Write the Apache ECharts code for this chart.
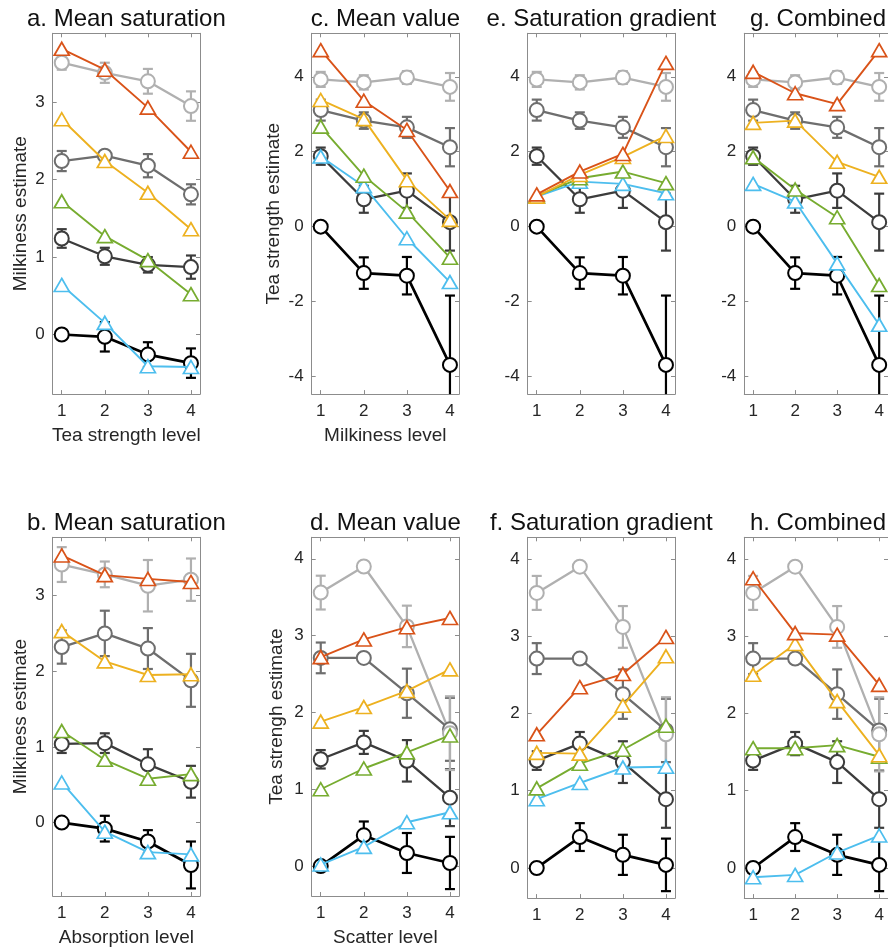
<!DOCTYPE html>
<html><head><meta charset="utf-8">
<script src="https://cdn.jsdelivr.net/npm/echarts@6/dist/echarts.min.js"></script>
<style>html,body{margin:0;padding:0;background:#fff}#chart{width:888px;height:948px}</style>
</head><body><div id="chart"></div>
<script>
// ---------- categories / ticks ----------
const levels = [1, 2, 3, 4];
const milkTicksA = [0, 1, 2, 3];
const milkTicksB = [0, 1, 2, 3];
const teaTicksTop = [-4, -2, 0, 2, 4];
const teaTicksBottom = [0, 1, 2, 3, 4];

// ---------- panel a (Milkiness estimate vs Tea strength level) ----------
const aBlack = [0, -0.03, -0.26, -0.37];
const aBlackErr = [0, 0.19, 0.16, 0.19];
const aDark = [1.24, 1.01, 0.90, 0.87];
const aDarkErr = [0.12, 0.11, 0.10, 0.15];
const aMid = [2.24, 2.31, 2.18, 1.81];
const aMidErr = [0.13, 0.06, 0.15, 0.13];
const aLight = [3.51, 3.38, 3.27, 2.95];
const aLightErr = [0.09, 0.13, 0.16, 0.19];
const aOrange = [3.69, 3.42, 2.93, 2.36];
const aYellow = [2.78, 2.24, 1.83, 1.36];
const aGreen = [1.72, 1.27, 0.96, 0.52];
const aBlue = [0.64, 0.15, -0.41, -0.42];

// ---------- panel b (Milkiness estimate vs Absorption level) ----------
const bBlack = [0, -0.08, -0.25, -0.56];
const bBlackErr = [0, 0.17, 0.15, 0.31];
const bDark = [1.04, 1.05, 0.77, 0.54];
const bDarkErr = [0.12, 0.13, 0.20, 0.21];
const bMid = [2.32, 2.50, 2.30, 1.88];
const bMidErr = [0.22, 0.30, 0.27, 0.35];
const bLight = [3.41, 3.28, 3.13, 3.21];
const bLightErr = [0.23, 0.17, 0.34, 0.28];
const bOrange = [3.53, 3.27, 3.22, 3.18];
const bYellow = [2.53, 2.13, 1.95, 1.96];
const bGreen = [1.21, 0.83, 0.58, 0.64];
const bBlue = [0.53, -0.12, -0.39, -0.42];

// ---------- top row c/e/g: shared circle series (Tea strength estimate vs Milkiness level) ----------
const topBlack = [0, -1.24, -1.31, -3.69];
const topBlackErr = [0, 0.42, 0.50, 1.85];
const topDark = [1.88, 0.73, 0.96, 0.12];
const topDarkErr = [0.23, 0.36, 0.46, 0.76];
const topMid = [3.11, 2.83, 2.65, 2.12];
const topMidErr = [0.28, 0.22, 0.28, 0.51];
const topLight = [3.93, 3.85, 3.98, 3.73];
const topLightErr = [0.20, 0.19, 0.17, 0.37];
const cOrange = [4.71, 3.36, 2.58, 0.95];
const cYellow = [3.38, 2.87, 1.24, 0.18];
const cGreen = [2.67, 1.36, 0.40, -0.83];
const cBlue = [1.87, 1.08, -0.31, -1.48];
const eOrange = [0.86, 1.47, 1.94, 4.37];
const eYellow = [0.80, 1.38, 1.86, 2.42];
const eGreen = [0.82, 1.29, 1.47, 1.16];
const eBlue = [0.80, 1.20, 1.14, 0.89];
const gOrange = [4.13, 3.56, 3.27, 4.71];
const gYellow = [2.77, 2.83, 1.73, 1.33];
const gGreen = [1.85, 0.99, 0.25, -1.56];
const gBlue = [1.14, 0.67, -0.98, -2.62];

// ---------- bottom row d/f/h: shared circle series (Tea strength estimate vs Scatter level) ----------
const botBlack = [0, 0.40, 0.17, 0.04];
const botBlackErr = [0, 0.18, 0.26, 0.34];
const botDark = [1.39, 1.61, 1.37, 0.89];
const botDarkErr = [0.12, 0.15, 0.27, 0.37];
const botMid = [2.71, 2.71, 2.25, 1.78];
const botMidErr = [0.20, 0.06, 0.32, 0.41];
const botLight = [3.56, 3.90, 3.12, 1.73];
const botLightErr = [0.22, 0, 0.27, 0.48];
const dOrange = [2.72, 2.95, 3.11, 3.23];
const dYellow = [1.88, 2.07, 2.28, 2.56];
const dGreen = [1.00, 1.27, 1.48, 1.70];
const dBlue = [0.02, 0.25, 0.57, 0.70];
const fOrange = [1.73, 2.34, 2.51, 2.99];
const fYellow = [1.49, 1.48, 2.10, 2.74];
const fGreen = [1.03, 1.35, 1.53, 1.84];
const fBlue = [0.89, 1.10, 1.30, 1.31];
const hOrange = [3.75, 3.04, 3.02, 2.37];
const hYellow = [2.50, 2.90, 2.16, 1.46];
const hGreen = [1.55, 1.55, 1.59, 1.44];
const hBlue = [-0.12, -0.09, 0.20, 0.42];

// ---------- styling ----------
const FONT = "'Liberation Sans', Arial, Helvetica, sans-serif";
const C_BLACK = '#000000', C_DARK = '#3c3c3c', C_MID = '#6e6e6e', C_LIGHT = '#b0b0b0';
const C_ORANGE = '#D95319', C_YELLOW = '#EDB120', C_GREEN = '#77AC30', C_BLUE = '#4DBEEE';
const AXIS_COLOR = '#8c8c8c';

const colLeft = [52.7, 311.7, 527.7, 744.3];
const rowTop = [33.3, 537.3];
const gridW = 147.3, gridH = 360.8;

const panels = [
  { title: 'a. Mean saturation', col: 0, row: 0, ymin: -0.77, ymax: 3.89, yticks: milkTicksA,
    xname: 'Tea strength level', yname: 'Milkiness estimate', ygap: 22,
    circles: [[aBlack, aBlackErr], [aDark, aDarkErr], [aMid, aMidErr], [aLight, aLightErr]],
    tris: [aBlue, aGreen, aYellow, aOrange] },
  { title: 'c. Mean value', col: 1, row: 0, ymin: -4.47, ymax: 5.16, yticks: teaTicksTop,
    xname: 'Milkiness level', yname: 'Tea strength estimate', ygap: 28,
    circles: [[topBlack, topBlackErr], [topDark, topDarkErr], [topMid, topMidErr], [topLight, topLightErr]],
    tris: [cBlue, cGreen, cYellow, cOrange] },
  { title: 'e. Saturation gradient', col: 2, row: 0, ymin: -4.47, ymax: 5.16, yticks: teaTicksTop,
    xname: '', yname: '', ygap: 28,
    circles: [[topBlack, topBlackErr], [topDark, topDarkErr], [topMid, topMidErr], [topLight, topLightErr]],
    tris: [eBlue, eGreen, eYellow, eOrange] },
  { title: 'g. Combined', col: 3, row: 0, ymin: -4.47, ymax: 5.16, yticks: teaTicksTop,
    xname: '', yname: '', ygap: 28,
    circles: [[topBlack, topBlackErr], [topDark, topDarkErr], [topMid, topMidErr], [topLight, topLightErr]],
    tris: [gBlue, gGreen, gYellow, gOrange] },
  { title: 'b. Mean saturation', col: 0, row: 1, ymin: -0.97, ymax: 3.77, yticks: milkTicksB,
    xname: 'Absorption level', yname: 'Milkiness estimate', ygap: 22,
    circles: [[bBlack, bBlackErr], [bDark, bDarkErr], [bMid, bMidErr], [bLight, bLightErr]],
    tris: [bBlue, bGreen, bYellow, bOrange] },
  { title: 'd. Mean value', col: 1, row: 1, ymin: -0.39, ymax: 4.28, yticks: teaTicksBottom,
    xname: 'Scatter level', yname: 'Tea strengh estimate', ygap: 25,
    circles: [[botBlack, botBlackErr], [botDark, botDarkErr], [botMid, botMidErr], [botLight, botLightErr]],
    tris: [dBlue, dGreen, dYellow, dOrange] },
  { title: 'f. Saturation gradient', col: 2, row: 1, ymin: -0.39, ymax: 4.28, yticks: teaTicksBottom,
    xname: '', yname: '', ygap: 25,
    circles: [[botBlack, botBlackErr], [botDark, botDarkErr], [botMid, botMidErr], [botLight, botLightErr]],
    tris: [fBlue, fGreen, fYellow, fOrange] },
  { title: 'h. Combined', col: 3, row: 1, ymin: -0.39, ymax: 4.28, yticks: teaTicksBottom,
    xname: '', yname: '', ygap: 25,
    circles: [[botBlack, botBlackErr], [botDark, botDarkErr], [botMid, botMidErr], [botLight, botLightErr]],
    tris: [hBlue, hGreen, hYellow, hOrange] }
];
const circleColors = [C_BLACK, C_DARK, C_MID, C_LIGHT];
const triColors = [C_BLUE, C_GREEN, C_YELLOW, C_ORANGE];

const grids = [], xAxes = [], yAxes = [], series = [], graphics = [];

function axisCommon(extra) {
  return Object.assign({
    type: 'value',
    axisLine: { show: true, onZero: false, lineStyle: { color: AXIS_COLOR, width: 1 } },
    splitLine: { show: false },
    axisTick: { show: true, inside: true, length: 4, lineStyle: { color: AXIS_COLOR, width: 1 } },
    nameTextStyle: { fontSize: 19, color: '#262626', fontFamily: FONT }
  }, extra);
}

panels.forEach((p, gi) => {
  const left = colLeft[p.col], top = rowTop[p.row];
  grids.push({ left: left, top: top, width: gridW, height: gridH, containLabel: false, show: false });
  const xLab = { show: true, fontSize: 17, color: '#262626', fontFamily: FONT, margin: 9, customValues: levels };
  xAxes.push(axisCommon({ gridIndex: gi, position: 'bottom', min: 0.79, max: 4.21,
    axisTick: { show: true, inside: true, length: 4, customValues: levels, lineStyle: { color: AXIS_COLOR, width: 1 } },
    axisLabel: xLab, name: p.xname, nameLocation: 'middle', nameGap: 32 }));
  xAxes.push(axisCommon({ gridIndex: gi, position: 'top', min: 0.79, max: 4.21,
    axisTick: { show: true, inside: true, length: 4, customValues: levels, lineStyle: { color: AXIS_COLOR, width: 1 } },
    axisLabel: { show: false } }));
  yAxes.push(axisCommon({ gridIndex: gi, position: 'left', min: p.ymin, max: p.ymax,
    axisTick: { show: true, inside: true, length: 4, customValues: p.yticks, lineStyle: { color: AXIS_COLOR, width: 1 } },
    axisLabel: { show: true, fontSize: 17, color: '#262626', fontFamily: FONT, margin: 8, customValues: p.yticks },
    name: p.yname, nameLocation: 'middle', nameGap: p.ygap }));
  yAxes.push(axisCommon({ gridIndex: gi, position: 'right', min: p.ymin, max: p.ymax,
    axisTick: { show: true, inside: true, length: 4, customValues: p.yticks, lineStyle: { color: AXIS_COLOR, width: 1 } },
    axisLabel: { show: false } }));

  const xi = gi * 2, yi = gi * 2;
  // circle series with error bars
  p.circles.forEach((pair, k) => {
    const vals = pair[0], errs = pair[1], color = circleColors[k];
    series.push({
      type: 'custom', xAxisIndex: xi, yAxisIndex: yi, z: 2, silent: true,
      data: levels.map((x, i) => [x, vals[i], errs[i]]),
      renderItem: function (params, api) {
        const x = api.value(0), y = api.value(1), e = api.value(2);
        if (!e) return null;
        const cs = params.coordSys;
        const t = api.coord([x, y + e]), b = api.coord([x, y - e]);
        const yTop = Math.max(t[1], cs.y), yBot = Math.min(b[1], cs.y + cs.height);
        const hw = 5, st = { stroke: color, lineWidth: 2.2 };
        const ch = [{ type: 'line', shape: { x1: t[0], y1: yTop, x2: t[0], y2: yBot }, style: st }];
        if (t[1] >= cs.y) ch.push({ type: 'line', shape: { x1: t[0] - hw, y1: t[1], x2: t[0] + hw, y2: t[1] }, style: st });
        if (b[1] <= cs.y + cs.height) ch.push({ type: 'line', shape: { x1: b[0] - hw, y1: b[1], x2: b[0] + hw, y2: b[1] }, style: st });
        return { type: 'group', children: ch };
      }
    });
    series.push({
      type: 'line', xAxisIndex: xi, yAxisIndex: yi, z: 3, silent: true,
      data: levels.map((x, i) => [x, vals[i]]),
      symbol: 'circle', symbolSize: 14, showAllSymbol: true,
      itemStyle: { color: '#ffffff', borderColor: color, borderWidth: 2 },
      lineStyle: { color: color, width: k === 0 ? 2.7 : 2.3 },
      emphasis: { disabled: true }
    });
  });
  // triangle series
  p.tris.forEach((vals, k) => {
    const color = triColors[k];
    series.push({
      type: 'line', xAxisIndex: xi, yAxisIndex: yi, z: 4, silent: true,
      data: levels.map((x, i) => [x, vals[i]]),
      symbol: 'triangle', symbolSize: [15, 13], showAllSymbol: true,
      itemStyle: { color: '#ffffff', borderColor: color, borderWidth: 1.7 },
      lineStyle: { color: color, width: 1.9 },
      emphasis: { disabled: true }
    });
  });
  graphics.push({
    type: 'text', x: left + gridW / 2, y: top - 14, z: 10,
    style: { text: p.title, fontSize: 24, fontFamily: FONT, fill: '#111111', align: 'center', verticalAlign: 'middle' }
  });
});

const chart = echarts.init(document.getElementById('chart'), null, { renderer: 'canvas' });
chart.setOption({
  animation: false,
  backgroundColor: '#ffffff',
  grid: grids, xAxis: xAxes, yAxis: yAxes, series: series, graphic: graphics
});
</script></body></html>
